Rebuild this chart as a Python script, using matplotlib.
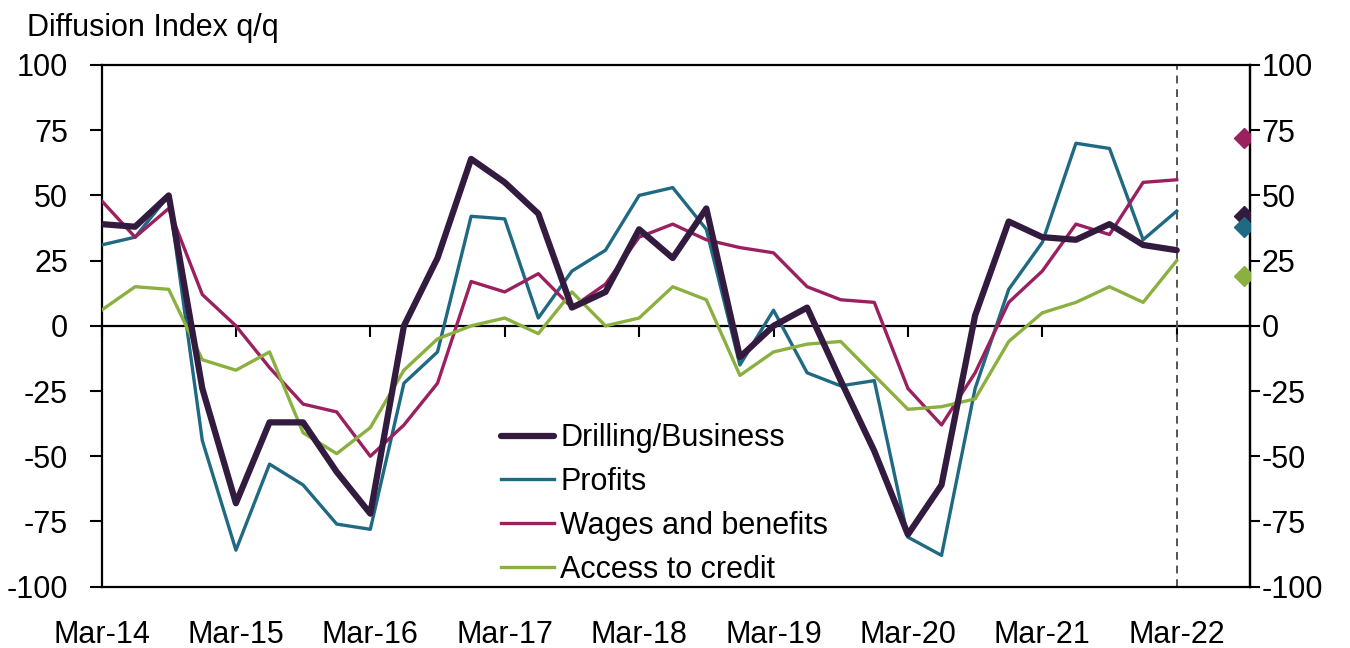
import numpy as np
import matplotlib
matplotlib.use('Agg')
import matplotlib.pyplot as plt

plt.rcParams['font.family'] = ['Liberation Sans', 'DejaVu Sans']
plt.rcParams['axes.unicode_minus'] = False

# Quarterly survey readings, Mar-14 .. Mar-22
quarters = [f'{m}-{y:02d}' for y in range(14, 23) for m in ['Mar', 'Jun', 'Sep', 'Dec']][:33]
year_labels = ['Mar-14', 'Mar-15', 'Mar-16', 'Mar-17', 'Mar-18', 'Mar-19', 'Mar-20', 'Mar-21', 'Mar-22']

drilling = [39, 38, 50, -24, -68, -37, -37, -56, -72, 0, 26, 64, 55, 43, 7, 13, 37, 26, 45, -12,
            0, 7, -21, -48, -80, -61, 4, 40, 34, 33, 39, 31, 29]
profits = [31, 34, 50, -44, -86, -53, -61, -76, -78, -22, -10, 42, 41, 3, 21, 29, 50, 53, 37, -15,
           6, -18, -23, -21, -81, -88, -24, 14, 32, 70, 68, 33, 44]
wages = [48, 34, 45, 12, 0, -16, -30, -33, -50, -38, -22, 17, 13, 20, 7, 16, 34, 39, 33, 30,
         28, 15, 10, 9, -24, -38, -18, 9, 21, 39, 35, 55, 56]
credit = [6, 15, 14, -13, -17, -10, -41, -49, -39, -17, -5, 0, 3, -3, 13, 0, 3, 15, 10, -19,
          -10, -7, -6, -19, -32, -31, -28, -6, 5, 9, 15, 9, 25]

# Expectations (diamonds), plotted two quarters after the last reading
expect_pos = 34
expectations = {'drilling': 42, 'profits': 38, 'wages': 72, 'credit': 19}

colors = {'drilling': '#331B3F', 'profits': '#1F6A82', 'wages': '#9B2060', 'credit': '#8BB040'}

fig = plt.figure(figsize=(13.5, 6.48), dpi=100)
ax = fig.add_axes([0.0752, 0.0946, 0.8507, 0.8051])

x = np.arange(len(quarters))
ax.plot(x, drilling, color=colors['drilling'], lw=4.5, label='Drilling/Business', solid_capstyle='round', zorder=4)
ax.plot(x, profits, color=colors['profits'], lw=2.4, label='Profits', zorder=3)
ax.plot(x, wages, color=colors['wages'], lw=2.4, label='Wages and benefits', zorder=3)
ax.plot(x, credit, color=colors['credit'], lw=2.4, label='Access to credit', zorder=3)

for key in ['wages', 'drilling', 'profits', 'credit']:
    ax.plot(expect_pos, expectations[key], marker='D', ms=10.5, color=colors[key], ls='none', zorder=5)

ax.axvline(32, color='#555555', lw=1.4, ls=(0, (4, 3)), zorder=2)

ax.set_xlim(0, 34.18)
ax.set_ylim(-100, 100)

# left axis
ax.set_yticks(range(-100, 101, 25))
ax.tick_params(axis='y', direction='out', length=8.3, width=1.5, pad=16, labelsize=22)
# x labels along the bottom edge, no tick marks there
ax.set_xticks(range(0, 33, 4))
ax.set_xticklabels(year_labels)
ax.tick_params(axis='x', length=0, pad=24, labelsize=22)

for s in ax.spines.values():
    s.set_linewidth(1.6)
    s.set_color('black')

# zero line carrying the yearly tick marks (pointing down)
zero_ax = ax.secondary_xaxis(0.5)
zero_ax.set_xticks(range(0, 33, 4))
zero_ax.set_xticklabels([])
zero_ax.tick_params(axis='x', direction='in', length=8, width=1.5,
                    labeltop=False, labelbottom=False)
for s in zero_ax.spines.values():
    s.set_linewidth(1.6)

# right axis
rax = ax.secondary_yaxis('right')
rax.set_yticks(range(-100, 101, 25))
rax.tick_params(axis='y', direction='out', length=7, width=1.5, pad=1.5, labelsize=22)
rax.spines['right'].set_linewidth(1.6)

ax.legend(loc='upper left', bbox_to_anchor=(0.345, 0.319), frameon=False, fontsize=22,
          handlelength=1.75, handletextpad=0.2, labelspacing=0.45, borderpad=0.1, borderaxespad=0)

fig.text(0.02, 0.945, 'Diffusion Index q/q', fontsize=22, ha='left', va='baseline')

plt.savefig('out.png', dpi=100)
